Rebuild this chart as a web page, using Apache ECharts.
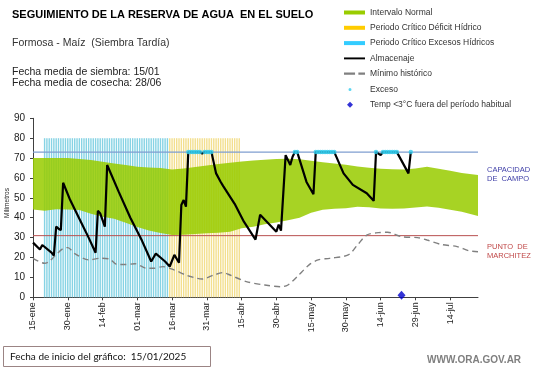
<!DOCTYPE html>
<html>
<head>
<meta charset="utf-8">
<script src="https://cdn.jsdelivr.net/npm/echarts@6/dist/echarts.min.js"></script>
<style>html,body{margin:0;padding:0;background:#fff;}#c{width:541px;height:368px;}</style>
</head>
<body>
<div id="c"></div>
<script>
// ---- Data ----
var xTickDays = [0,15,30,45,60,75,90,105,120,135,150,165,180];
var xTickLabels = ['15-ene','30-ene','14-feb','01-mar','16-mar','31-mar','15-abr','30-abr','15-may','30-may','14-jun','29-jun','14-jul'];
var lastDay = 192;

// Intervalo normal (band)
var bandDays = [0,5,10,15,20,25,30,35,40,45,50,55,60,65,70,75,80,85,90,95,100,105,110,115,120,125,130,135,140,145,150,155,160,165,170,175,180,185,192];
var bandHigh = [70,70,70,70,69.5,69,68.2,67.3,66.5,65.7,65.3,65,64.3,64.8,65.5,66.3,67,67.7,68.3,68.8,69.2,69.5,69.7,69.4,68.6,67.9,67.3,66.6,65.8,65.1,64.6,64.4,64.3,64.8,65.7,64.6,63.6,62.5,61.5];
var bandLow  = [44.2,43.5,44.3,44.2,43.9,42,40.5,39.5,37.5,35.3,33.6,32.3,31.3,31.5,31.8,32.2,32.5,33,34.7,35.5,36.7,37.6,38.7,40,42.5,44,44.5,44.8,45.5,45.3,44.6,44.5,44.7,45.1,45.6,45,44,43,40.9];

// Critical periods (first day, last day), drawn as daily stripes up to 80 mm
var excesoPeriod = [5, 58];
var deficitPeriod = [59, 89];
var stripeTop = 80;

// Reference levels
var capacidadCampo = 73;
var puntoMarchitez = 31;

// Almacenaje (day, mm)
var almDays = [0,3,4,8,9,10,11,12,13,16,20,24,27,28,29,31,32,37,42,47,51,53,55,57,59,61,63,64,65,66,67,72,73,74,77,79,81,82,87,91,96,98,105,106,107,109,111,112,113,114,118,121,122,130,134,138,144,147,148,150,151,157,162,163];
var almVals = [27.5,24,26.3,22.5,21,35.5,34.5,33.8,57.6,49,39.5,30,22.4,43.5,42.2,35.5,66.5,53,40,28.5,18,22,20,18,15.5,21.3,17.4,46.4,48.9,45.6,73,73,72.3,73,73,62.3,58,56,47,38,29,41.5,33,36.5,33.5,71.5,66.5,70.7,73,73,58,51.8,73,73,62.3,56.5,52.3,48.5,73,71.5,73,73,62.3,73];

// Minimo historico (day, mm)
var minDays = [0,5,7,10,13,15,18,24,29,33,36,40,44,49,52,56,61,66,71,73,78,82,85,92,100,107,110,114,119,123,128,136,140,144,149,153,159,166,170,176,183,188,192];
var minVals = [19.6,17.1,18,21.5,24.5,25,22,18.8,19.6,19.3,16.6,16.5,16.9,14.6,14.6,15.4,13.7,11.2,9.5,9.2,11.2,12.4,11.2,7.9,6.2,5.3,6.2,10.4,16.2,18.8,19.6,21.3,26.3,31.3,32.5,32.7,30.5,30,28.8,26.6,25.5,23.4,22.9];

// Exceso days (at field capacity)
var excesoDays = [67,68,69,70,71,72,74,75,76,77,113,114,122,123,124,125,126,127,128,129,130,148,151,152,153,154,155,156,157,163];

// Temp < 3 C
var frostDays = [159];
var frostVals = [1];

// ---- Build ----
function pairs(xs, ys){ return xs.map(function(x,i){ return [x, ys[i]]; }); }
function stripes(p){ var a=[]; for (var d=p[0]; d<=p[1]; d++) a.push([d, stripeTop]); return a; }
function stripeRender(color){
  return function(params, api){
    var top = api.coord([api.value(0), api.value(1)]);
    var bot = api.coord([api.value(0), 0]);
    return {type: 'rect', shape: {x: top[0] - 0.7, y: top[1], width: 1.4, height: bot[1] - top[1]}, style: {fill: color}};
  };
}

var FONT = '"Liberation Sans", Arial, sans-serif';
var chart = echarts.init(document.getElementById('c'), null, {renderer:'canvas'});

var lineIcon = 'path://M0,0H22V2H0Z';
var dashIcon = 'path://M0,0H10V2H0Z M13,0H19V2H13Z';

var option = {
  animation: false,
  backgroundColor: '#fff',
  textStyle: {fontFamily: FONT},
  grid: {left: 33, right: 63, top: 118.3, bottom: 70.7, containLabel: false, outerBoundsMode: 'none'},
  xAxis: {
    type: 'value', min: 0, max: lastDay, interval: 15,
    axisLine: {lineStyle: {color: '#404040', width: 1}},
    axisTick: {show: true, length: 3, lineStyle: {color: '#404040'}, customValues: xTickDays},
    axisLabel: {rotate: 90, fontSize: 9, color: '#222', margin: 5, fontFamily: FONT,
      customValues: xTickDays,
      formatter: function(v){ var i = xTickDays.indexOf(v); return i >= 0 ? xTickLabels[i] : ''; }},
    splitLine: {show: false}
  },
  yAxis: {
    type: 'value', min: 0, max: 90, interval: 10,
    axisLine: {show: true, lineStyle: {color: '#404040', width: 1}},
    axisTick: {show: true, length: 3, lineStyle: {color: '#404040'}},
    axisLabel: {fontSize: 10, color: '#222', margin: 8, fontFamily: FONT},
    splitLine: {show: false}
  },
  legend: [{
    orient: 'vertical', left: 344, top: 7.5, padding: 0, itemWidth: 21, itemHeight: 4, itemGap: 5.3,
    selectedMode: false,
    textStyle: {fontSize: 8.5, color: '#333', lineHeight: 10, fontFamily: FONT},
    data: [
      {name: 'Intervalo Normal', icon: 'rect', itemStyle: {color: '#99cc00', opacity: 1}},
      {name: 'Periodo Crítico Déficit Hídrico', icon: 'rect', itemStyle: {color: '#ffcc00', opacity: 1}},
      {name: 'Periodo Crítico Excesos Hídricos', icon: 'rect', itemStyle: {color: '#33ccff', opacity: 1}},
      {name: 'Almacenaje', icon: lineIcon, itemStyle: {color: '#000'}},
      {name: 'Mínimo histórico', icon: dashIcon, itemStyle: {color: '#808080'}}
    ]
  }, {
    orient: 'vertical', left: 347, top: 84.5, padding: 0, itemWidth: 6, itemHeight: 6, itemGap: 5.3,
    selectedMode: false,
    textStyle: {fontSize: 8.5, color: '#333', lineHeight: 10, fontFamily: FONT, padding: [0, 0, 0, 12]},
    data: [
      {name: 'Exceso', icon: 'path://M1,1.5A1.5,1.5,0,1,1,4,1.5A1.5,1.5,0,1,1,1,1.5Z M0,-1.5H0.01V4.5H0Z M5,-1.5H5.01V4.5H5Z', itemStyle: {color: '#33ccee'}},
      {name: 'Temp <3°C fuera del período habitual', icon: 'diamond', itemStyle: {color: '#0000cc'}}
    ]
  }],
  series: [
    {name: 'Periodo Crítico Excesos Hídricos', type: 'custom', data: stripes(excesoPeriod), encode: {x: 0, y: 1},
     renderItem: stripeRender('#86d3e4'), itemStyle: {color: '#33ccff'}, z: 1},
    {name: 'Periodo Crítico Déficit Hídrico', type: 'custom', data: stripes(deficitPeriod), encode: {x: 0, y: 1},
     renderItem: stripeRender('#f3df8e'), itemStyle: {color: '#ffcc00'}, z: 1},
    {name: 'Intervalo Normal', type: 'custom', z: 2,
     itemStyle: {color: '#99cc00'},
     data: bandDays.map(function(d,i){ return [d, bandLow[i], bandHigh[i]]; }),
     encode: {x: 0, y: [1, 2]},
     renderItem: function(params, api){
       if (params.dataIndex !== 0) return null;
       var up = [], lo = [];
       for (var i = 0; i < bandDays.length; i++) {
         up.push(api.coord([bandDays[i], bandHigh[i]]));
         lo.unshift(api.coord([bandDays[i], bandLow[i]]));
       }
       return {type: 'polygon', shape: {points: up.concat(lo)}, style: {fill: '#99cc00', opacity: 0.86}};
     }},
    {name: 'Capacidad de campo', type: 'line', data: [[0, capacidadCampo],[lastDay, capacidadCampo]], symbol: 'none',
     lineStyle: {color: '#7f9ed0', width: 1.2}, z: 3},
    {name: 'Punto de marchitez', type: 'line', data: [[0, puntoMarchitez],[lastDay, puntoMarchitez]], symbol: 'none',
     lineStyle: {color: '#b85050', width: 1}, z: 3},
    {name: 'Mínimo histórico', type: 'line', data: pairs(minDays, minVals), symbol: 'none', smooth: 0.3,
     lineStyle: {color: '#808080', width: 1.4, type: [6, 4]}, itemStyle: {color: '#808080'}, z: 4},
    {name: 'Almacenaje', type: 'line', data: pairs(almDays, almVals), symbol: 'none',
     lineStyle: {color: '#000', width: 2.2}, itemStyle: {color: '#000'}, z: 5},
    {name: 'Exceso', type: 'scatter', data: excesoDays.map(function(d){ return [d, capacidadCampo]; }),
     symbol: 'circle', symbolSize: 4.5, itemStyle: {color: '#33ccee'}, z: 6},
    {name: 'Temp <3°C fuera del período habitual', type: 'scatter', data: pairs(frostDays, frostVals),
     symbol: 'diamond', symbolSize: [8, 9], itemStyle: {color: '#0000cc'}, z: 6}
  ],
  graphic: [
    {type: 'text', x: 12, y: 15, style: {text: 'SEGUIMIENTO DE LA RESERVA DE AGUA  EN EL SUELO', font: 'bold 11px ' + FONT, fill: '#000', textVerticalAlign: 'middle'}},
    {type: 'text', x: 12, y: 43.5, style: {text: 'Formosa - Maíz  (Siembra Tardía)', font: '10.5px ' + FONT, fill: '#333', textVerticalAlign: 'middle'}},
    {type: 'text', x: 12, y: 71.7, style: {text: 'Fecha media de siembra: 15/01', font: '10.5px ' + FONT, fill: '#222', textVerticalAlign: 'middle'}},
    {type: 'text', x: 12, y: 82.7, style: {text: 'Fecha media de cosecha: 28/06', font: '10.5px ' + FONT, fill: '#222', textVerticalAlign: 'middle'}},
    {type: 'text', x: 7, y: 203, rotation: Math.PI / 2, style: {text: 'Milímetros', font: '6.5px ' + FONT, fill: '#222', textAlign: 'center', textVerticalAlign: 'middle'}},
    {type: 'text', x: 487, y: 170, style: {text: 'CAPACIDAD', font: '7.5px ' + FONT, fill: '#4040a8', textVerticalAlign: 'middle'}},
    {type: 'text', x: 487, y: 179, style: {text: 'DE  CAMPO', font: '7.5px ' + FONT, fill: '#4040a8', textVerticalAlign: 'middle'}},
    {type: 'text', x: 487, y: 246.7, style: {text: 'PUNTO  DE', font: '7.5px ' + FONT, fill: '#c04848', textVerticalAlign: 'middle'}},
    {type: 'text', x: 487, y: 255.5, style: {text: 'MARCHITEZ', font: '7.5px ' + FONT, fill: '#c04848', textVerticalAlign: 'middle'}},
    {type: 'rect', shape: {x: 3.5, y: 346.5, width: 207, height: 20}, style: {fill: '#fff', stroke: '#9b8484', lineWidth: 1}},
    {type: 'text', x: 10, y: 356.5, style: {text: 'Fecha de inicio del gráfico:  15/01/2025', font: '10px Lato, ' + FONT, fill: '#111', textVerticalAlign: 'middle'}},
    {type: 'text', x: 427, y: 360, style: {text: 'WWW.ORA.GOV.AR', font: 'bold 10px ' + FONT, fill: '#7f7f7f', textVerticalAlign: 'middle'}}
  ]
};
chart.setOption(option);
</script>
</body>
</html>
